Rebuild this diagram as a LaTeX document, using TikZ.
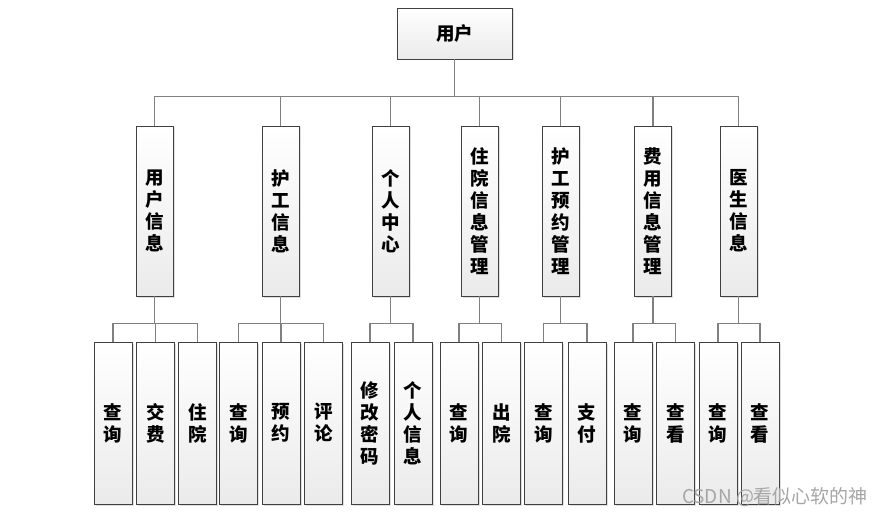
\documentclass[tikz,border=0pt]{standalone}
\usepackage{fontspec}
\setmainfont{Noto Sans CJK SC}
\usetikzlibrary{shadows}

\begin{document}
\begin{tikzpicture}[x=1pt, y=-1pt,
		box/.style={rectangle, draw=black!75, line width=0.9pt, top color=white, bottom color=black!8,
			drop shadow={shadow xshift=1.5pt, shadow yshift=-1.5pt, fill=black!25, opacity=0.5},
			font=\bfseries\fontsize{18.5}{22}\selectfont, align=center, inner sep=0pt},
		rootbox/.style={box, minimum width=115pt, minimum height=51pt},
		modbox/.style={box, minimum width=37pt, minimum height=170pt},
		funcbox/.style={box, minimum width=38pt, minimum height=162pt},
		link/.style={draw=black!50, line width=1.2pt}
	]
	\useasboundingbox (0,0) rectangle (886,516);

	% Root
	\node[rootbox] (root) at (454.5,33.5) {用户};

	% Modules
	\node[modbox] (yhxx) at (154.5,211) {用\\户\\信\\息};
	\node[modbox] (hgxx) at (280.5,211) {护\\工\\信\\息};
	\node[modbox] (grzx) at (390.5,211) {个\\人\\中\\心};
	\node[modbox] (zyxx) at (479.5,211) {住\\院\\信\\息\\管\\理};
	\node[modbox] (hgyy) at (560.5,211) {护\\工\\预\\约\\管\\理};
	\node[modbox] (fyxx) at (653,211) {费\\用\\信\\息\\管\\理};
	\node[modbox] (ysxx) at (738.5,211) {医\\生\\信\\息};

	% Functions
	\node[funcbox] (yhcx) at (113,423) {查\\询};
	\node[funcbox] (yhjf) at (155.5,423) {交\\费};
	\node[funcbox] (yhzy) at (197.5,423) {住\\院};
	\node[funcbox] (hgcx) at (238.5,423) {查\\询};
	\node[funcbox] (hgyu) at (281,423) {预\\约};
	\node[funcbox] (hgpl) at (323.5,423) {评\\论};
	\node[funcbox] (xgmm) at (370,423) {修\\改\\密\\码};
	\node[funcbox] (grxx) at (413,423) {个\\人\\信\\息};
	\node[funcbox] (zycx) at (459,423) {查\\询};
	\node[funcbox] (zycy) at (501.5,423) {出\\院};
	\node[funcbox] (yycx) at (543.5,423) {查\\询};
	\node[funcbox] (yyzf) at (587,423) {支\\付};
	\node[funcbox] (fycx) at (633,423) {查\\询};
	\node[funcbox] (fyck) at (675.5,423) {查\\看};
	\node[funcbox] (yscx) at (718,423) {查\\询};
	\node[funcbox] (ysck) at (760,423) {查\\看};

	% Connections
	\foreach \m in {yhxx,hgxx,grzx,zyxx,hgyy,fyxx,ysxx}
		\draw[link] (root.south) -- ++(0,37) -| (\m.north);
	\foreach \p/\c in {yhxx/yhcx,yhxx/yhjf,yhxx/yhzy,hgxx/hgcx,hgxx/hgyu,hgxx/hgpl,
			grzx/xgmm,grzx/grxx,zyxx/zycx,zyxx/zycy,hgyy/yycx,hgyy/yyzf,
			fyxx/fycx,fyxx/fyck,ysxx/yscx,ysxx/ysck}
		\draw[link] (\p.south) -- ++(0,27) -| (\c.north);

	% Watermark
	\node[text=black!35, font=\fontsize{19}{19}\selectfont] (wmark) at (775,497) {CSDN @看似心软的神};

\end{tikzpicture}
\end{document}
